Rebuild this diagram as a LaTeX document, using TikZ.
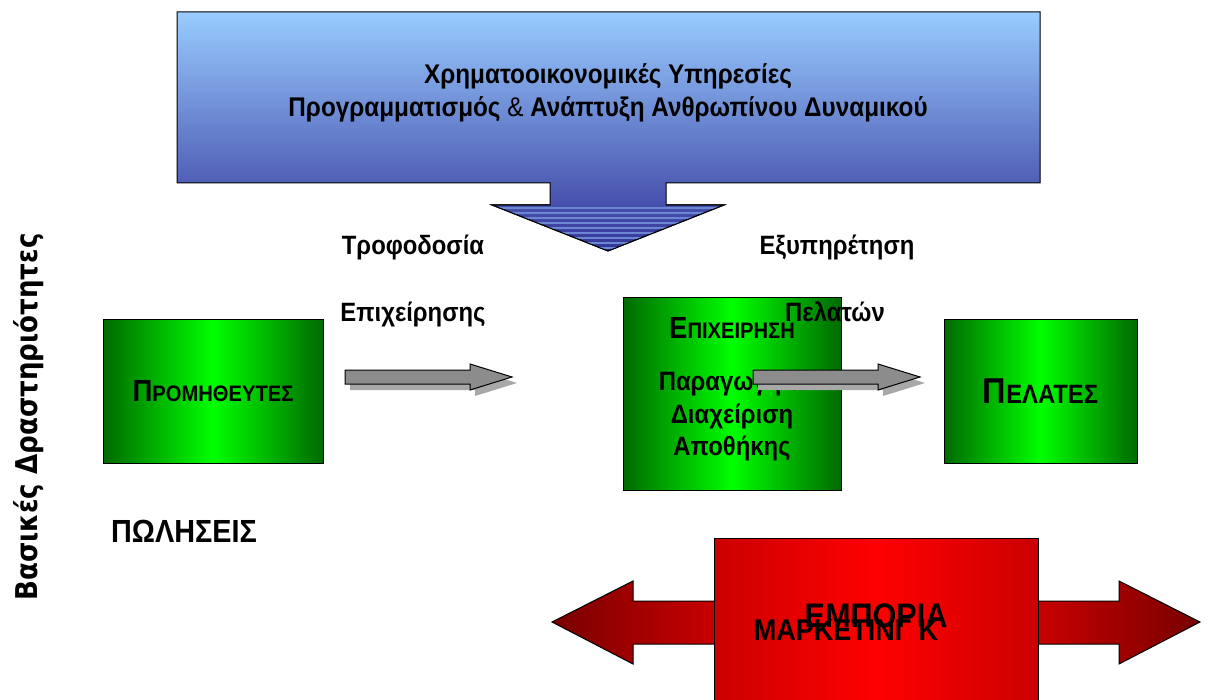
\documentclass[tikz,border=0pt]{standalone}
\usepackage{fontspec}
\setmainfont{Liberation Sans}[FakeStretch=0.9]
\newfontfamily\dejavu{DejaVu Sans}[FakeStretch=0.87]
\definecolor{skyblue}{HTML}{99CCFF}
\definecolor{navy}{HTML}{333399}
\definecolor{dkgreen}{HTML}{006A00}
\definecolor{brgreen}{HTML}{00FF00}
\definecolor{dkred}{HTML}{780000}
\definecolor{mdred}{HTML}{CC0000}
\definecolor{brred}{HTML}{FF0000}
\definecolor{arrgray}{HTML}{8C8C8C}
\definecolor{shgray}{HTML}{A8A8A8}
\newcommand{\capsc}[4]{{\fontsize{#1}{#1}\selectfont #3}{\fontsize{#2}{#2}\selectfont #4}}

\begin{document}
\begin{tikzpicture}[x=1pt, y=-1pt, line join=miter,
  greenbox/.style={draw=black, line width=1pt, left color=dkgreen, right color=dkgreen, middle color=brgreen, inner sep=0pt},
  lbl/.style={font=\bfseries\fontsize{26.5}{30}\selectfont, inner sep=0pt},
  boxtxt/.style={font=\bfseries\fontsize{26.5}{32.5}\selectfont, inner sep=0pt, align=center}]
\useasboundingbox (0,0) rectangle (1209,700);
% banner with down arrow
\draw[line width=1pt, top color=skyblue, bottom color=navy] (177,12) -- (1040,12) -- (1040,183) -- (666,183) -- (666,205) -- (724,205) -- (608,251) -- (492,205) -- (550,205) -- (550,183) -- (177,183) -- cycle;
\begin{scope}
  \clip (492,205) -- (724,205) -- (608,251) -- cycle;
  \foreach \yy in {208,213,...,248}
    \draw[skyblue!55!navy, line width=1.4pt] (480,\yy) -- (740,\yy);
\end{scope}
\draw[line width=1pt] (550,205) -- (492,205) -- (608,251) -- (724,205) -- (666,205);
\node[boxtxt, font=\bfseries\fontsize{27}{33}\selectfont] (finance) at (608,93) {Χρηματοοικονομικές Υπηρεσίες\\Προγραμματισμός {\mdseries\&} Ανάπτυξη Ανθρωπίνου Δυναμικού};

% green boxes
\node[greenbox, minimum width=220pt, minimum height=143pt] (suppliers) at (213,391.5) {};
\node[greenbox, minimum width=218pt, minimum height=192pt] (firm) at (732,394) {};
\node[greenbox, minimum width=193pt, minimum height=143pt] (customers) at (1040.5,391.5) {};
\node[boxtxt] (suppname) at (suppliers.center) {\capsc{30.5}{22.4}{Π}{ΡΟΜΗΘΕΥΤΕΣ}};
\node[boxtxt] (custname) at (customers.center) {\capsc{36}{26.5}{Π}{ΕΛΑΤΕΣ}};
\node[boxtxt] (firmname) at (732,328) {\capsc{30.5}{22.4}{Ε}{ΠΙΧΕΙΡΗΣΗ}};
\node[boxtxt] (firmtask) at (732,416) {Παραγωγή \&\\Διαχείριση\\Αποθήκης};

% gray arrows
\foreach \xs/\xh in {345/470, 753/878}{
  \fill[shgray] ({\xs+5},376) -- ({\xh+5},376) -- ({\xh+5},370) -- ({\xh+47},383) -- ({\xh+5},396) -- ({\xh+5},390) -- ({\xs+5},390) -- cycle;
  \draw[fill=arrgray, line width=1pt] (\xs,370) -- (\xh,370) -- (\xh,364) -- ({\xh+42},377) -- (\xh,390) -- (\xh,384) -- (\xs,384) -- cycle;
}

% labels
\node[lbl] (feed) at (413,247) {Τροφοδοσία};
\node[lbl] (feedb) at (413,314) {Επιχείρησης};
\node[lbl] (serve) at (837,247) {Εξυπηρέτηση};
\node[lbl] (serveb) at (835,312) {Πελατών};
\node[lbl, font=\bfseries\fontsize{32}{35}\selectfont] (sales) at (184,531) {ΠΩΛΗΣΕΙΣ};
\node[rotate=90, inner sep=0pt, font=\dejavu\bfseries\fontsize{30}{34}\selectfont] (core) at (29,417) {Βασικές Δραστηριότητες};

% red double arrow and box
\shade[draw=black, line width=1pt, left color=dkred, right color=mdred] (552,622) -- (633,581) -- (633,601) -- (722,601) -- (722,644) -- (633,644) -- (633,664) -- cycle;
\shade[draw=black, line width=1pt, left color=mdred, right color=dkred] (1200,622) -- (1119,581) -- (1119,601) -- (1030,601) -- (1030,644) -- (1119,644) -- (1119,664) -- cycle;
\node[draw=black, line width=1pt, left color=mdred, right color=mdred, middle color=brred, minimum width=324pt, minimum height=175pt, anchor=north west, inner sep=0pt] (trade) at (714,538) {};
\node[lbl, font=\bfseries\fontsize{34}{37}\selectfont] (commerce) at (876,616) {ΕΜΠΟΡΙΑ};
\node[lbl, font=\bfseries\fontsize{30}{33}\selectfont] (marketing) at (846,630) {ΜΑΡΚΕΤΙΝΓ Κ};
\end{tikzpicture}
\end{document}
